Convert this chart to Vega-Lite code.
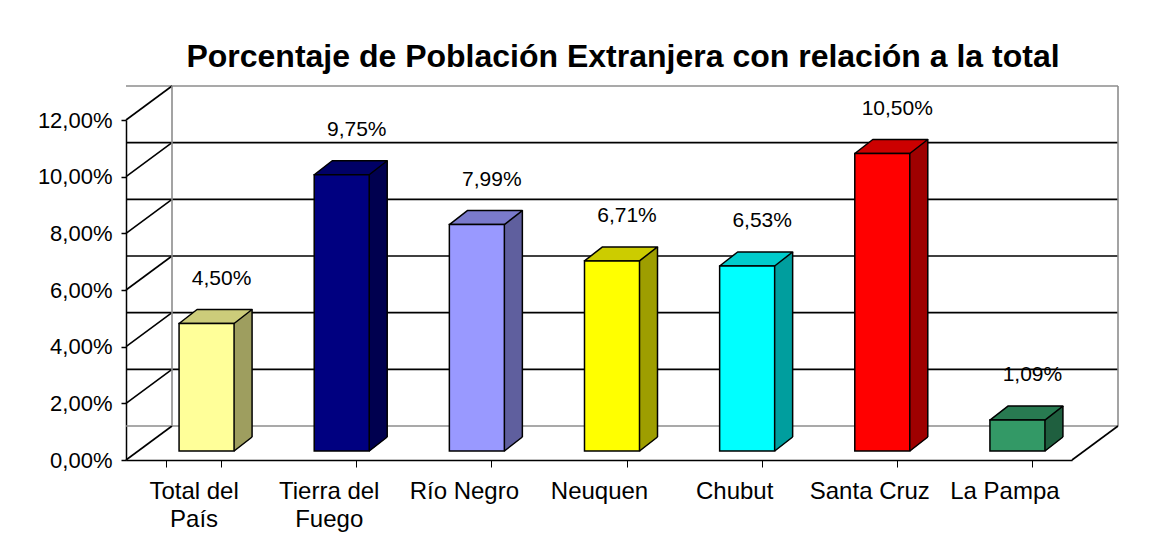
{
  "$schema": "https://vega.github.io/schema/vega-lite/v6.json",
  "autosize": {"type": "none"},
  "padding": {"left": 126, "top": 120, "right": 77, "bottom": 81},
  "width": 946,
  "height": 340,
  "background": "white",
  "title": {
    "text": "Porcentaje de Población Extranjera con relación a la total",
    "font": "Liberation Sans",
    "fontSize": 32,
    "fontWeight": "bold",
    "color": "#000000",
    "anchor": "middle",
    "frame": "group",
    "dx": 24,
    "offset": 11
  },
  "datasets": {
    "bars": [
      {"region": "Total del País", "v": 0.045},
      {"region": "Tierra del Fuego", "v": 0.0975},
      {"region": "Río Negro", "v": 0.0799},
      {"region": "Neuquen", "v": 0.0671},
      {"region": "Chubut", "v": 0.0653},
      {"region": "Santa Cruz", "v": 0.105},
      {"region": "La Pampa", "v": 0.0109}
    ],
    "ticks": [
      {"t": 0}, {"t": 0.02}, {"t": 0.04}, {"t": 0.06}, {"t": 0.08}, {"t": 0.1}, {"t": 0.12}
    ]
  },
  "config": {
    "locale": {"number": {"decimal": ",", "thousands": ".", "grouping": [3], "currency": ["$", ""]}},
    "view": {"stroke": null},
    "font": "Liberation Sans",
    "axisY": {
      "grid": false,
      "domainColor": "#000000",
      "domainWidth": 1.5,
      "tickColor": "#000000",
      "tickWidth": 1.5,
      "tickSize": 5,
      "labelFontSize": 22,
      "labelColor": "#000000",
      "labelPadding": 9,
      "labelFont": "Liberation Sans",
      "title": null
    },
    "axisX": {
      "domainColor": "#000000",
      "domainWidth": 1.5,
      "tickColor": "#000000",
      "tickWidth": 1,
      "tickSize": 7,
      "tickBand": "extent",
      "labelFontSize": 24,
      "labelColor": "#000000",
      "labelAngle": 0,
      "labelPadding": 12,
      "labelLineHeight": 28,
      "labelFont": "Liberation Sans",
      "title": null,
      "labelExpr": "length(datum.label) > 12 ? [slice(datum.label, 0, lastindexof(datum.label, ' ')), slice(datum.label, lastindexof(datum.label, ' ') + 1)] : datum.label"
    }
  },
  "layer": [
    {
      "data": {"name": "ticks"},
      "mark": {"type": "rule", "xOffset": 46, "x2Offset": 46, "yOffset": -34, "strokeWidth": 1.6},
      "encoding": {
        "y": {
          "field": "t", "type": "quantitative",
          "scale": {"domain": [0, 0.12], "nice": false},
          "axis": {"values": [0, 0.02, 0.04, 0.06, 0.08, 0.1, 0.12], "format": ".2%"}
        },
        "color": {
          "condition": {"test": "datum.t == 0 || datum.t == 0.12", "value": "#8c8c8c"},
          "value": "#000000"
        }
      }
    },
    {
      "data": {"name": "ticks"},
      "mark": {"type": "rule", "x2Offset": 46, "y2Offset": -34, "strokeWidth": 1.6, "color": "#000000"},
      "encoding": {
        "x": {"value": 0},
        "x2": {"value": 0},
        "y": {"field": "t", "type": "quantitative"},
        "y2": {"field": "t"}
      }
    },
    {
      "data": {"values": [{}]},
      "mark": {"type": "rule", "xOffset": 46, "x2Offset": 46, "yOffset": -34, "y2Offset": -34, "strokeWidth": 1.6, "color": "#8c8c8c"},
      "encoding": {
        "x": {"value": 0},
        "y": {"datum": 0, "type": "quantitative"},
        "y2": {"datum": 0.12}
      }
    },
    {
      "data": {"values": [{}]},
      "mark": {"type": "rule", "xOffset": 46, "x2Offset": 46, "yOffset": -34, "y2Offset": -34, "strokeWidth": 1.6, "color": "#8c8c8c"},
      "encoding": {
        "x": {"value": "width"},
        "y": {"datum": 0, "type": "quantitative"},
        "y2": {"datum": 0.12}
      }
    },
    {
      "data": {"values": [{}]},
      "mark": {"type": "rule", "x2Offset": 46, "y2Offset": -34, "strokeWidth": 1.6, "color": "#000000"},
      "encoding": {
        "x": {"value": "width"},
        "x2": {"value": "width"},
        "y": {"datum": 0, "type": "quantitative"},
        "y2": {"datum": 0}
      }
    },
    {
      "data": {"name": "bars"},
      "mark": {"type": "bar", "width": 18, "xOffset": 49.5, "yOffset": -23, "y2Offset": -9, "opacity": 1},
      "encoding": {
        "x": {"field": "region", "type": "nominal", "sort": null, "scale": {"paddingInner": 0.593, "paddingOuter": 0.2965}},
        "y": {"field": "v", "type": "quantitative"},
        "y2": {"datum": 0},
        "color": {
          "field": "region", "type": "nominal", "sort": null, "legend": null,
          "scale": {
            "domain": ["Total del País", "Tierra del Fuego", "Río Negro", "Neuquen", "Chubut", "Santa Cruz", "La Pampa"],
            "range": ["#FFFF99", "#000080", "#9999FF", "#FFFF00", "#00FFFF", "#FF0000", "#339966"]
          }
        }
      }
    },
    {
      "data": {"name": "bars"},
      "mark": {"type": "bar", "width": 18, "xOffset": 49.5, "yOffset": -23, "y2Offset": -9, "color": "#000000", "opacity": 0.38},
      "encoding": {
        "x": {"field": "region", "type": "nominal", "sort": null},
        "y": {"field": "v", "type": "quantitative"},
        "y2": {"datum": 0}
      }
    },
    {
      "data": {"name": "bars"},
      "mark": {"type": "point", "shape": "M27.5,0.5 L46.5,0.5 L46.5,-14.5 Z", "size": 4, "filled": true, "color": "#ffffff", "opacity": 1, "xOffset": 13, "yOffset": -9},
      "encoding": {
        "x": {"field": "region", "type": "nominal", "sort": null},
        "y": {"datum": 0, "type": "quantitative"}
      }
    },
    {
      "data": {"name": "bars"},
      "mark": {"type": "point", "shape": "M27.5,0 L45.5,-14", "size": 4, "filled": false, "stroke": "#000000", "strokeWidth": 1.5, "opacity": 1, "xOffset": 13, "yOffset": -9},
      "encoding": {
        "x": {"field": "region", "type": "nominal", "sort": null},
        "y": {"datum": 0, "type": "quantitative"}
      }
    },
    {
      "data": {"name": "bars"},
      "mark": {"type": "point", "shape": "M-27.5,0 L27.5,0 L45.5,-14 L-9.5,-14 Z", "size": 4, "filled": true, "opacity": 1, "xOffset": 13, "yOffset": -9},
      "encoding": {
        "x": {"field": "region", "type": "nominal", "sort": null},
        "y": {"field": "v", "type": "quantitative"},
        "color": {"field": "region", "type": "nominal", "sort": null, "legend": null}
      }
    },
    {
      "data": {"name": "bars"},
      "mark": {"type": "point", "shape": "M-27.5,0 L27.5,0 L45.5,-14 L-9.5,-14 Z", "size": 4, "filled": true, "fill": "#000000", "fillOpacity": 0.2, "stroke": "#000000", "strokeOpacity": 1, "strokeWidth": 1.5, "strokeJoin": "round", "xOffset": 13, "yOffset": -9},
      "encoding": {
        "x": {"field": "region", "type": "nominal", "sort": null},
        "y": {"field": "v", "type": "quantitative"}
      }
    },
    {
      "data": {"name": "bars"},
      "mark": {"type": "rule", "xOffset": 58.5, "yOffset": -23, "y2Offset": -23, "color": "#000000", "strokeWidth": 1.5},
      "encoding": {
        "x": {"field": "region", "type": "nominal", "sort": null},
        "y": {"field": "v", "type": "quantitative"},
        "y2": {"datum": 0}
      }
    },
    {
      "data": {"name": "bars"},
      "mark": {"type": "bar", "xOffset": 13, "yOffset": -9, "y2Offset": -9, "stroke": "#000000", "strokeWidth": 1.5, "opacity": 1},
      "encoding": {
        "x": {"field": "region", "type": "nominal", "sort": null},
        "y": {"field": "v", "type": "quantitative"},
        "y2": {"datum": 0},
        "color": {"field": "region", "type": "nominal", "sort": null, "legend": null}
      }
    },
    {
      "data": {"name": "bars"},
      "mark": {"type": "text", "fontSize": 21, "font": "Liberation Sans", "color": "#000000", "baseline": "middle", "align": "center", "xOffset": 28, "yOffset": -54},
      "encoding": {
        "x": {"field": "region", "type": "nominal", "sort": null},
        "y": {"field": "v", "type": "quantitative"},
        "text": {"field": "v", "type": "quantitative", "format": ".2%"}
      }
    }
  ],
  "resolve": {"scale": {"color": "shared"}}
}
